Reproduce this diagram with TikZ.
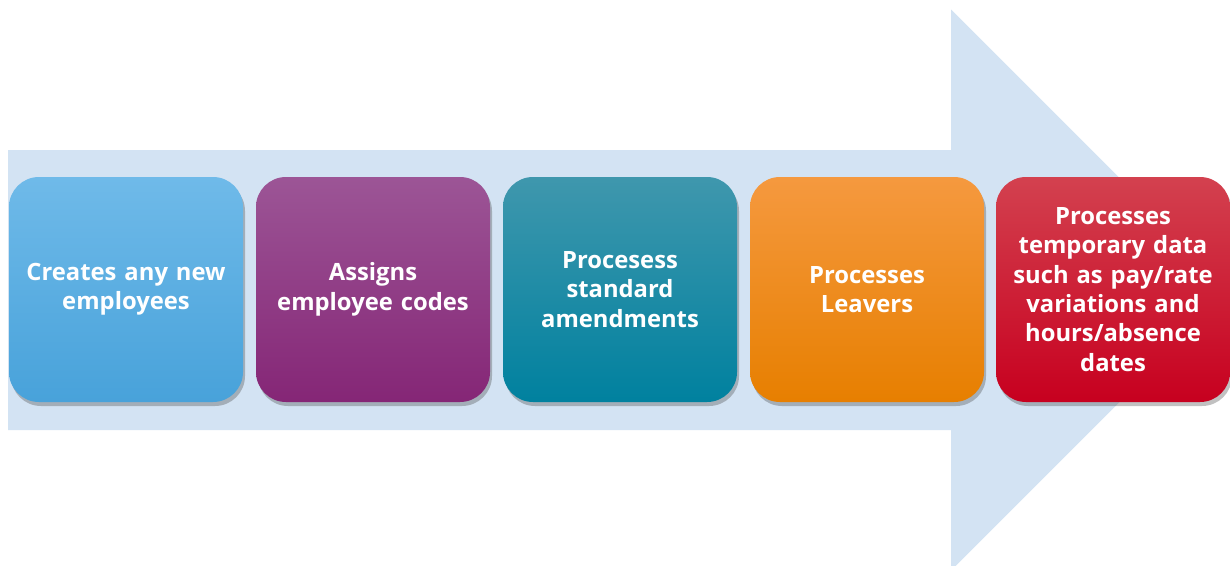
\documentclass[tikz,border=0pt]{standalone}
\usepackage{fontspec}
\setmainfont{Open Sans}[BoldFont={* Bold}]
\usetikzlibrary{shadows}
\definecolor{arrowblue}{HTML}{D3E3F3}
\definecolor{c1t}{HTML}{6FBAE9}\definecolor{c1b}{HTML}{48A2DA}
\definecolor{c2t}{HTML}{9C5596}\definecolor{c2b}{HTML}{852676}
\definecolor{c3t}{HTML}{3F97AD}\definecolor{c3b}{HTML}{00819F}
\definecolor{c4t}{HTML}{F5993F}\definecolor{c4b}{HTML}{E77F00}
\definecolor{c5t}{HTML}{D3414F}\definecolor{c5b}{HTML}{C7001F}
\tikzset{
  stepbox/.style={rounded corners=30pt, minimum width=234pt, minimum height=225pt,
    text width=226pt, align=center, text=white, font=\bfseries\fontsize{23.8pt}{29.4pt}\selectfont,
    inner sep=0pt,
    drop shadow={shadow xshift=2pt, shadow yshift=-4pt, opacity=0.35, fill=black!70}},
}
\begin{document}
\begin{tikzpicture}[x=1pt,y=-1pt]
\useasboundingbox (0,0) rectangle (1230,565);
% big arrow
\fill[arrowblue] (8,150) -- (951,150) -- (951,9.5) -- (1231.5,290) -- (951,570.5) -- (951,430) -- (8,430) -- cycle;
\node[stepbox, top color=c1t, bottom color=c1b] (s1) at (126,289.5) {Creates any new\\employees};
\node[stepbox, top color=c2t, bottom color=c2b] (s2) at (373,289.5) {Assigns\\employee codes};
\node[stepbox, top color=c3t, bottom color=c3b] (s3) at (620,289.5) {Procesess\\standard\\amendments};
\node[stepbox, top color=c4t, bottom color=c4b] (s4) at (867,289.5) {Processes\\Leavers};
\node[stepbox, top color=c5t, bottom color=c5b] (s5) at (1113,289.5) {Processes\\temporary data\\such as pay/rate\\variations and\\hours/absence\\dates};
\end{tikzpicture}
\end{document}
